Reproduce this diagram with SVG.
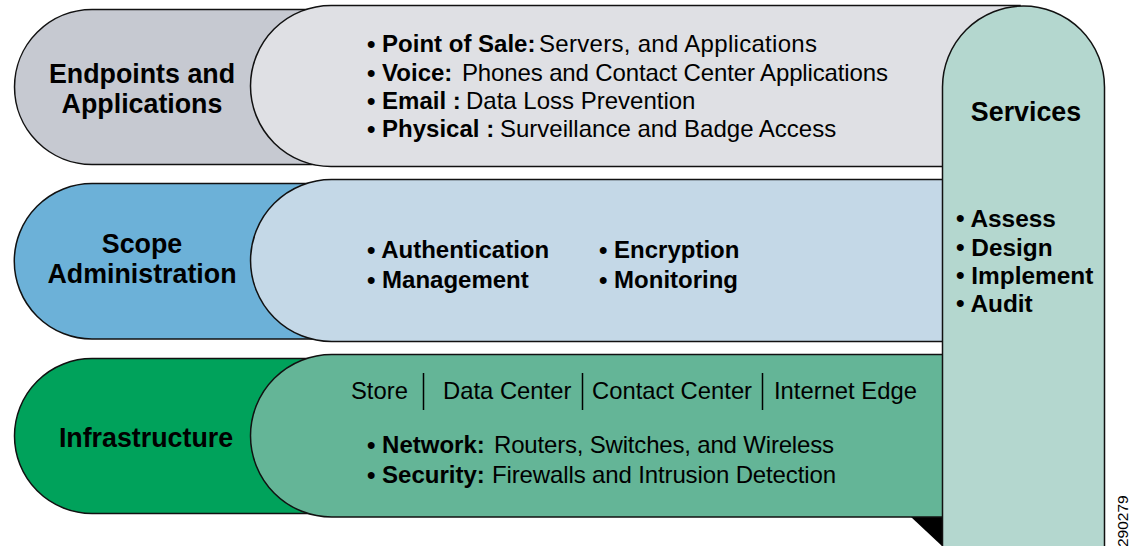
<svg xmlns="http://www.w3.org/2000/svg" width="1132" height="546" viewBox="0 0 1132 546">
<style>
text{font-family:"Liberation Sans",Arial,sans-serif;fill:#000}
.h{font-size:26.800px;font-weight:700;text-anchor:middle}
.t{font-size:24px}
.r{font-size:23.800px}
.u{font-size:24.400px}
.b{font-weight:700}
.s{stroke:#111;stroke-width:1.5}
.d{stroke:#000;stroke-width:1.5}
</style>
<rect width="1132" height="546" fill="#fff"/>
<g id="endpoints">
<path class="s" fill="#c6c9d1" d="M400 9.5H92A77.500 77.500 0 0 0 92 164.500H400Z"/>
<path class="s" fill="#dfe0e4" d="M1020 5.500H331A80.500 80.500 0 0 0 331 166.500H1020Z"/>
<text class="h"><tspan x="142" y="83">Endpoints and</tspan><tspan x="142" y="113">Applications</tspan></text>
<text class="t" y="52"><tspan class="b" x="367">• Point of Sale:</tspan><tspan x="539" textLength="278">Servers, and  Applications</tspan></text>
<text class="t" y="81"><tspan class="b" x="367">• Voice:</tspan><tspan x="462" textLength="426">Phones and Contact Center Applications</tspan></text>
<text class="t" y="109"><tspan class="b" x="367">• Email :</tspan><tspan x="466">Data Loss Prevention</tspan></text>
<text class="t" y="137"><tspan class="b" x="367">• Physical :</tspan><tspan x="500">Surveillance and Badge Access</tspan></text>
</g>
<g id="scope">
<path class="s" fill="#6cb1d8" d="M400 183.500H92A77.750 77.750 0 0 0 92 339H400Z"/>
<path class="s" fill="#c4d8e7" d="M1020 179.500H331.500A81 81 0 0 0 331.500 341.500H1020Z"/>
<text class="h"><tspan x="142" y="253">Scope</tspan><tspan x="142" y="283">Administration</tspan></text>
<text class="t b" x="367" y="258">• Authentication</text>
<text class="t b" x="367" y="288">• Management</text>
<text class="t b" x="599" y="258">• Encryption</text>
<text class="t b" x="599" y="288">• Monitoring</text>
</g>
<g id="infrastructure">
<path d="M911 517H942V546Z" fill="#000"/>
<path class="s" fill="#00a25b" d="M400 358.500H92A77.500 77.500 0 0 0 92 513.500H400Z"/>
<path class="s" fill="#64b597" d="M1020 354.500H331.750A81.250 81.250 0 0 0 331.750 517H1020Z"/>
<text class="h" x="146" y="447">Infrastructure</text>
<text class="r" x="351" y="399">Store</text>
<text class="r" x="443" y="399">Data Center</text>
<text class="r" x="592" y="399">Contact Center</text>
<text class="r" x="774" y="399">Internet Edge</text>
<path class="d" fill="none" d="M423.500 373V410M582.500 373V410M762.500 373V410"/>
<text class="t" y="453"><tspan class="b" x="367">• Network:</tspan><tspan x="494" textLength="340">Routers, Switches, and Wireless</tspan></text>
<text class="t" y="483"><tspan class="b" x="367">• Security:</tspan><tspan x="492" textLength="344">Firewalls and Intrusion Detection</tspan></text>
</g>
<g id="services">
<path class="s" fill="#b4d7cf" d="M942.500 547V87A81 81 0 0 1 1104.500 87V547Z"/>
<text class="h" x="1026" y="121">Services</text>
<text class="u b" x="956" y="227">• Assess</text>
<text class="u b" x="956" y="256">• Design</text>
<text class="u b" x="956" y="284">• Implement</text>
<text class="u b" x="956" y="312">• Audit</text>
</g>
<text transform="translate(1128 547) rotate(-90)" font-size="15.500">290279</text>
<g id="connectors"/>
</svg>
